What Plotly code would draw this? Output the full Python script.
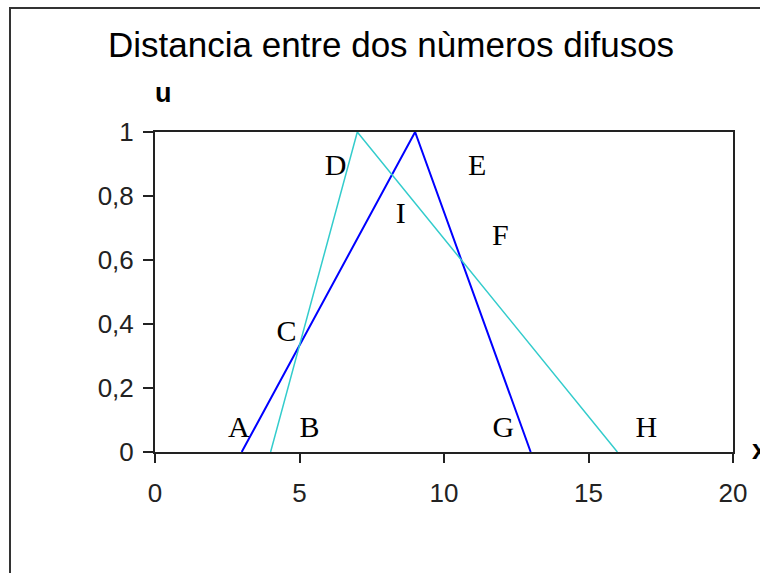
import plotly.graph_objects as go

# Two triangular fuzzy numbers: (left, peak, right) membership vertices
blue_x = [3, 9, 13]
blue_u = [0, 1, 0]
cyan_x = [4, 7, 16]
cyan_u = [0, 1, 0]

# Point labels placed on the chart
label_text = ["A", "B", "C", "D", "E", "F", "G", "H", "I"]
label_x = [2.9, 5.35, 4.55, 6.25, 11.15, 11.95, 12.05, 17.0, 8.5]
label_u = [0.07, 0.07, 0.37, 0.89, 0.89, 0.67, 0.07, 0.07, 0.74]

x_ticks = [0, 5, 10, 15, 20]
u_ticks = [0, 0.2, 0.4, 0.6, 0.8, 1]

fig = go.Figure()
fig.add_trace(go.Scatter(x=blue_x, y=blue_u, mode="lines",
                         line=dict(color="#0000FF", width=2), cliponaxis=False))
fig.add_trace(go.Scatter(x=cyan_x, y=cyan_u, mode="lines",
                         line=dict(color="#33CCCC", width=1.5), cliponaxis=False))
fig.add_trace(go.Scatter(x=label_x, y=label_u, mode="text", text=label_text,
                         textfont=dict(family="Liberation Serif, Times New Roman, serif",
                                       size=30, color="black"),
                         cliponaxis=False))

axis_font = dict(family="Liberation Sans, Arial, sans-serif", size=26, color="#222")

fig.update_layout(
    width=760, height=573,
    margin=dict(l=155, r=27, t=132, b=121),
    paper_bgcolor="white", plot_bgcolor="white",
    showlegend=False,
    separators=",.",
    xaxis=dict(range=[0, 20], tickvals=x_ticks, showgrid=False, zeroline=False,
               showline=True, linecolor="#222", linewidth=2, mirror=True,
               ticks="outside", ticklen=9, tickwidth=2, tickcolor="#222",
               tickfont=axis_font, ticklabelstandoff=8),
    yaxis=dict(range=[0, 1], tickvals=u_ticks, showgrid=False, zeroline=False,
               showline=True, linecolor="#222", linewidth=2, mirror=True,
               ticks="outside", ticklen=10, tickwidth=2, tickcolor="#222",
               tickfont=axis_font, ticklabelstandoff=4),
)

# Outer chart frame (its right and bottom edges run past the page)
fig.add_shape(type="rect", xref="paper", yref="paper",
              x0=(10 - 155) / 578, x1=(820 - 155) / 578,
              y0=(452 - 620) / 320, y1=(452 - 8) / 320,
              line=dict(color="#333", width=2), fillcolor="rgba(0,0,0,0)", layer="below")

fig.add_annotation(text="Distancia entre dos nùmeros difusos", xref="paper", yref="paper",
                   x=(391 - 155) / 578, y=(452 - 44.5) / 320, showarrow=False,
                   xanchor="center", yanchor="middle",
                   font=dict(family="Liberation Sans, Arial, sans-serif", size=35, color="black"))
fig.add_annotation(text="<b>u</b>", xref="paper", yref="paper",
                   x=(163 - 155) / 578, y=(452 - 93) / 320, showarrow=False,
                   xanchor="center", yanchor="middle",
                   font=dict(family="Liberation Sans, Arial, sans-serif", size=27, color="black"))
fig.add_annotation(text="<b>x</b>", xref="paper", yref="paper",
                   x=(750 - 155) / 578, y=(452 - 450) / 320, showarrow=False,
                   xanchor="left", yanchor="middle",
                   font=dict(family="Liberation Sans, Arial, sans-serif", size=27, color="black"))

fig.write_html("out.html")
